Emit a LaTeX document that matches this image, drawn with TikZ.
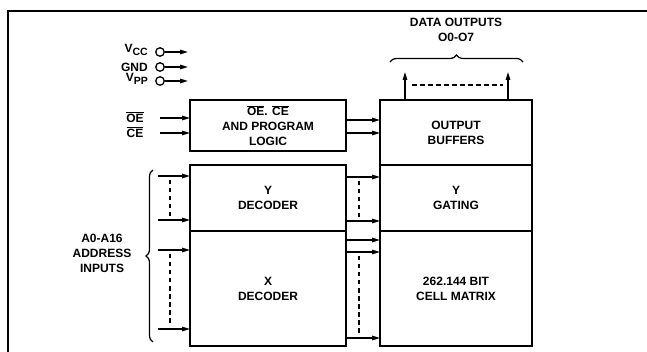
\documentclass[tikz,border=0pt]{standalone}
\usepackage{fontspec}
\setmainfont{Liberation Sans}
\usetikzlibrary{arrows.meta,decorations.pathreplacing}
\newcommand{\ovl}[1]{$\overline{\mbox{#1}}$}
\newcommand{\subcap}[1]{\raisebox{-3pt}{\fontsize{10.5}{10}\selectfont #1}}

\begin{document}
\begin{tikzpicture}[x=1pt, y=-1pt, font=\fontsize{12}{15}\selectfont\bfseries,
  blk/.style={draw, line width=1.4pt, inner sep=0pt, outer sep=0pt,
              align=center, minimum width=#1},
  arr/.style={-{Triangle[length=8pt,width=4.5pt]}, line width=1.3pt},
  dsh/.style={dash pattern=on 4.5pt off 3.5pt, line width=1.3pt},
  brc/.style={decorate, decoration={brace, amplitude=7pt}, line width=1.2pt},
  pincirc/.style={draw, circle, line width=1.3pt, minimum size=8.5pt, inner sep=0pt},
  lbl/.style={inner sep=0pt, align=center},
]
\useasboundingbox (0,0) rectangle (647,352);
\draw[line width=1.4pt] (647,11) -| (8,352);

% left column
\node[blk=156pt, minimum height=51pt] (logic) at (268,125.5)
  {\ovl{OE}. \ovl{CE}\\ AND PROGRAM\\ LOGIC};
\node[blk=156pt, minimum height=66pt] (ydec) at (268,198) {Y\\ DECODER};
\node[blk=156pt, minimum height=115pt] (xdec) at (268,288.5) {X\\ DECODER};

% right column
\node[blk=152pt, minimum height=65pt] (outbuf) at (456,132.5) {OUTPUT\\ BUFFERS};
\node[blk=152pt, minimum height=66pt] (ygate) at (456,198) {Y\\ GATING};
\node[blk=152pt, minimum height=115pt] (cell) at (456,288.5) {262.144 BIT\\ CELL MATRIX};

% power pins
\node[pincirc] (vcc) at (160,52) {};
\node[pincirc] (gnd) at (160,67) {};
\node[pincirc] (vpp) at (160,81) {};
\node[lbl, anchor=east] (vcclbl) at (148,50) {V\subcap{CC}};
\node[lbl, anchor=east] (gndlbl) at (148,67) {GND};
\node[lbl, anchor=east] (vpplbl) at (148,79) {V\subcap{PP}};
\draw[arr] (vcc.east) -- (188,52);
\draw[arr] (gnd.east) -- (188,67);
\draw[arr] (vpp.east) -- (188,81);

% control inputs
\node[lbl] (oe) at (135,117) {\ovl{OE}};
\node[lbl] (ce) at (135,132) {\ovl{CE}};
\draw[arr] (160,118) -- (logic.west |- 0,118);
\draw[arr] (160,133) -- (logic.west |- 0,133);

% address inputs
\draw[arr] (158,176) -- (ydec.west |- 0,176);
\draw[arr] (158,220) -- (ydec.west |- 0,220);
\draw[arr] (158,250) -- (xdec.west |- 0,250);
\draw[arr] (158,329) -- (xdec.west |- 0,329);
\draw[dsh] (170,180) -- (170,217);
\draw[dsh] (170,254) -- (170,325);
\draw[brc] (153,342) -- (153,170);
\node[lbl] (addr) at (102,253) {A0-A16\\ ADDRESS\\ INPUTS};

% internal buses
\draw[arr] (logic.east |- 0,120) -- (outbuf.west |- 0,120);
\draw[arr] (logic.east |- 0,133) -- (outbuf.west |- 0,133);
\draw[arr] (ydec.east |- 0,177) -- (ygate.west |- 0,177);
\draw[arr] (ydec.east |- 0,221) -- (ygate.west |- 0,221);
\draw[arr] (xdec.east |- 0,240) -- (cell.west |- 0,240);
\draw[arr] (xdec.east |- 0,252) -- (cell.west |- 0,252);
\draw[arr] (xdec.east |- 0,338) -- (cell.west |- 0,338);
\draw[dsh] (359,181) -- (359,217);
\draw[dsh] (359,256) -- (359,334);

% data outputs
\draw[arr] (outbuf.north -| 405,0) -- (405,72);
\draw[arr] (outbuf.north -| 508,0) -- (508,72);
\draw[dsh] (412,85) -- (503,85);
\draw[brc] (390,62) -- (523,62);
\node[lbl] (dout) at (456,30) {DATA OUTPUTS\\ O0-O7};
\end{tikzpicture}
\end{document}
